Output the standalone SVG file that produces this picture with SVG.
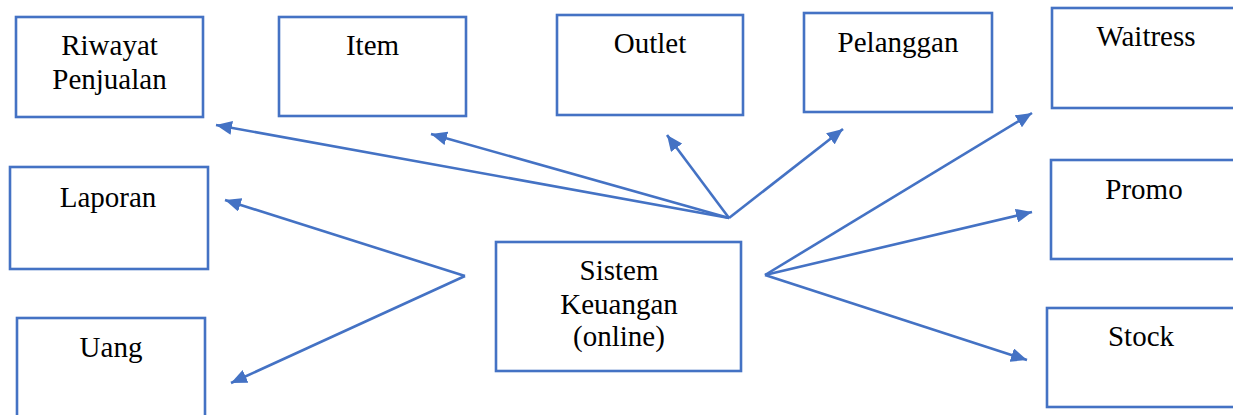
<svg xmlns="http://www.w3.org/2000/svg" width="1233" height="415" viewBox="0 0 1233 415">
  <style>
    .box { fill: #ffffff; stroke: #4472C4; stroke-width: 2.6; }
    .lbl { font-family: "Liberation Serif", "DejaVu Serif", serif; font-size: 29px; fill: #000000; text-anchor: middle; }
    .conn { fill: none; stroke: #4472C4; stroke-width: 2.6; }
  </style>
  <defs>
    <marker id="arrow" markerUnits="userSpaceOnUse" markerWidth="17" markerHeight="14" refX="16" refY="7" orient="auto">
      <path d="M0,0 L16,7 L0,14 z" fill="#4472C4"/>
    </marker>
  </defs>
  <rect width="1233" height="415" fill="#ffffff"/>

  <g id="connectors">
    <!-- upper fan -->
    <line class="conn" x1="729" y1="218" x2="216" y2="125" marker-end="url(#arrow)"/>
    <line class="conn" x1="729" y1="218" x2="431" y2="134" marker-end="url(#arrow)"/>
    <line class="conn" x1="729" y1="218" x2="667" y2="135" marker-end="url(#arrow)"/>
    <line class="conn" x1="729" y1="218" x2="843" y2="129" marker-end="url(#arrow)"/>
    <!-- left fan -->
    <line class="conn" x1="465" y1="276" x2="225" y2="200" marker-end="url(#arrow)"/>
    <line class="conn" x1="465" y1="276" x2="231" y2="383" marker-end="url(#arrow)"/>
    <!-- right fan -->
    <line class="conn" x1="765" y1="275" x2="1032" y2="113" marker-end="url(#arrow)"/>
    <line class="conn" x1="765" y1="275" x2="1032" y2="212" marker-end="url(#arrow)"/>
    <line class="conn" x1="765" y1="275" x2="1027" y2="360" marker-end="url(#arrow)"/>
  </g>

  <g id="riwayat-penjualan">
    <rect class="box" x="16" y="17" width="187" height="100"/>
    <text class="lbl" x="109.5" y="55">Riwayat</text>
    <text class="lbl" x="109.5" y="89">Penjualan</text>
  </g>
  <g id="item">
    <rect class="box" x="279" y="17" width="187" height="99"/>
    <text class="lbl" x="372.5" y="55">Item</text>
  </g>
  <g id="outlet">
    <rect class="box" x="557" y="15" width="186" height="100"/>
    <text class="lbl" x="650" y="53">Outlet</text>
  </g>
  <g id="pelanggan">
    <rect class="box" x="804" y="13" width="188" height="99"/>
    <text class="lbl" x="898" y="52">Pelanggan</text>
  </g>
  <g id="waitress">
    <rect class="box" x="1052" y="8" width="188" height="100"/>
    <text class="lbl" x="1146" y="46">Waitress</text>
  </g>
  <g id="laporan">
    <rect class="box" x="10" y="167" width="198" height="102"/>
    <text class="lbl" x="108" y="207">Laporan</text>
  </g>
  <g id="promo">
    <rect class="box" x="1051" y="160" width="188" height="99"/>
    <text class="lbl" x="1144" y="199">Promo</text>
  </g>
  <g id="sistem-keuangan">
    <rect class="box" x="496" y="242" width="245" height="129"/>
    <text class="lbl" x="619" y="280">Sistem</text>
    <text class="lbl" x="619" y="314">Keuangan</text>
    <text class="lbl" x="619" y="346">(online)</text>
  </g>
  <g id="uang">
    <rect class="box" x="17" y="318" width="188" height="104"/>
    <text class="lbl" x="111" y="357">Uang</text>
  </g>
  <g id="stock">
    <rect class="box" x="1047" y="308" width="188" height="99"/>
    <text class="lbl" x="1141" y="346">Stock</text>
  </g>
</svg>
